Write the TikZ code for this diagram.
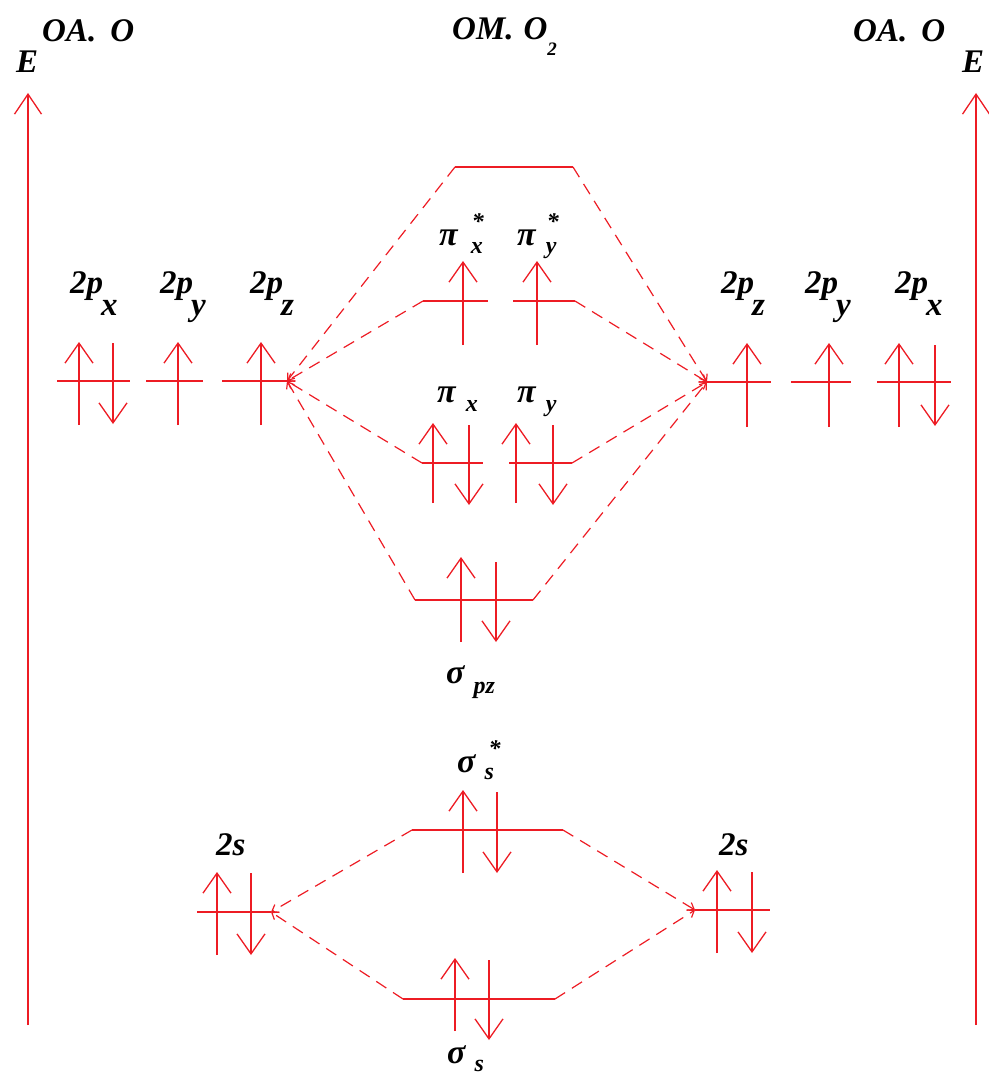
\documentclass[tikz,border=0pt]{standalone}
\usepackage{fontspec}
\setmainfont{Liberation Serif}
\usetikzlibrary{arrows.meta}
\definecolor{ored}{RGB}{237,28,36}
% subscript for the 2p labels
\newcommand\osub[1]{\kern-2pt\raisebox{-22pt}{#1}}
% greek label: [star]{letter}{gap}{drop}{subscript}
\newcommand\gl[5][]{{\fontsize{34}{34}\selectfont #2}\kern#3{\fontsize{24}{24}\selectfont\rlap{\raisebox{16pt}{\kern1pt #1}}\raisebox{-#4}{#5}}}
\tikzset{
  lbl/.style={font=\fontsize{33}{34}\selectfont\bfseries\itshape, inner sep=0pt, anchor=base west},
  glbl/.style={font=\bfseries\itshape, inner sep=0pt, anchor=base west},
  lvl/.style={draw=ored, line width=1.6pt},
  eup/.style={draw=ored, line width=1.5pt, -{Straight Barb[length=20pt,width=28pt,line width=1.3pt]}},
  axis/.style={draw=ored, line width=1.6pt, -{Straight Barb[length=20pt,width=27pt,line width=1.3pt]}},
  conn/.style={draw=ored, line width=1.2pt, dash pattern=on 12pt off 8pt, -{Straight Barb[length=6pt,width=9pt,line width=1.2pt]}}
}
\begin{document}
\begin{tikzpicture}[x=1pt,y=-1pt]
\useasboundingbox (0,0) rectangle (988,1075);

% energy axes
\coordinate (axLb) at (28,1025); \coordinate (axLt) at (28,93);
\coordinate (axRb) at (976,1025); \coordinate (axRt) at (976,93);
\draw[axis] (axLb) -- (axLt);
\draw[axis] (axRb) -- (axRt);

% titles
\node[lbl] (eL) at (16,73) {E};
\node[lbl] (oaL) at (42,42) {OA.\kern14pt O};
\node[lbl] (om) at (452,40) {OM.\kern10pt O\raisebox{-16pt}{\fontsize{19}{19}\selectfont 2}};
\node[lbl] (oaR) at (853,42) {OA.\kern14pt O};
\node[lbl] (eR) at (962,73) {E};

% ---- left 2p
\coordinate (a1) at (57,381); \coordinate (a2) at (130,381);
\coordinate (b1) at (146,381); \coordinate (b2) at (203,381);
\coordinate (c1) at (222,381); \coordinate (c2) at (287,381);
\draw[lvl] (a1) -- (a2); \draw[lvl] (b1) -- (b2); \draw[lvl] (c1) -- (c2);
\draw[eup] (79,425) -- (79,342);
\draw[eup] (113,343) -- (113,424);
\draw[eup] (178,425) -- (178,342);
\draw[eup] (261,425) -- (261,342);
\node[lbl] (l2px) at (70,293) {2p\osub{x}};
\node[lbl] (l2py) at (160,293) {2p\osub{y}};
\node[lbl] (l2pz) at (250,293) {2p\osub{z}};

% ---- right 2p
\coordinate (d1) at (707,382); \coordinate (d2) at (771,382);
\coordinate (e1) at (791,382); \coordinate (e2) at (851,382);
\coordinate (f1) at (877,382); \coordinate (f2) at (951,382);
\draw[lvl] (d1) -- (d2); \draw[lvl] (e1) -- (e2); \draw[lvl] (f1) -- (f2);
\draw[eup] (747,427) -- (747,343);
\draw[eup] (829,427) -- (829,343);
\draw[eup] (899,427) -- (899,343);
\draw[eup] (935,345) -- (935,426);
\node[lbl] (r2pz) at (721,293) {2p\osub{z}};
\node[lbl] (r2py) at (805,293) {2p\osub{y}};
\node[lbl] (r2px) at (895,293) {2p\osub{x}};

% ---- MO sigma* pz (top, empty)
\coordinate (t1) at (455,167); \coordinate (t2) at (573,167);
\draw[lvl] (t1) -- (t2);

% ---- pi*
\coordinate (ps1) at (423,301); \coordinate (ps2) at (488,301);
\coordinate (qs1) at (513,301); \coordinate (qs2) at (575,301);
\draw[lvl] (ps1) -- (ps2); \draw[lvl] (qs1) -- (qs2);
\draw[eup] (463,345) -- (463,261);
\draw[eup] (537,345) -- (537,261);
\node[glbl] (lpsx) at (439,245) {\gl[*]{π}{13pt}{8pt}{x}};
\node[glbl] (lpsy) at (517,245) {\gl[*]{π}{10pt}{8pt}{y}};

% ---- pi
\coordinate (p1) at (422,463); \coordinate (p2) at (483,463);
\coordinate (q1) at (509,463); \coordinate (q2) at (572,463);
\draw[lvl] (p1) -- (p2); \draw[lvl] (q1) -- (q2);
\draw[eup] (433,503) -- (433,423);
\draw[eup] (469,425) -- (469,505);
\draw[eup] (516,503) -- (516,423);
\draw[eup] (553,425) -- (553,505);
\node[glbl] (lpx) at (437,402) {\gl{π}{10pt}{9pt}{x}};
\node[glbl] (lpy) at (517,402) {\gl{π}{10pt}{9pt}{y}};

% ---- sigma pz
\coordinate (s1) at (415,600); \coordinate (s2) at (533,600);
\draw[lvl] (s1) -- (s2);
\draw[eup] (461,642) -- (461,557);
\draw[eup] (496,562) -- (496,642);
\node[glbl] (lspz) at (446,683) {\gl{σ}{9pt}{10pt}{pz}};

% ---- sigma* s
\coordinate (u1) at (412,830); \coordinate (u2) at (563,830);
\draw[lvl] (u1) -- (u2);
\draw[eup] (463,873) -- (463,790);
\draw[eup] (497,792) -- (497,873);
\node[glbl] (lsss) at (457,772) {\gl[\kern3pt*]{σ}{9pt}{7pt}{s}};

% ---- sigma s
\coordinate (v1) at (403,999); \coordinate (v2) at (555,999);
\draw[lvl] (v1) -- (v2);
\draw[eup] (455,1031) -- (455,958);
\draw[eup] (489,960) -- (489,1040);
\node[glbl] (lss) at (447,1063) {\gl{σ}{9pt}{8pt}{s}};

% ---- 2s
\coordinate (g1) at (197,912); \coordinate (g2) at (271,912);
\coordinate (h1) at (695,910); \coordinate (h2) at (770,910);
\draw[lvl] (g1) -- (g2); \draw[lvl] (h1) -- (h2);
\draw[eup] (217,955) -- (217,872);
\draw[eup] (251,873) -- (251,955);
\draw[eup] (717,953) -- (717,870);
\draw[eup] (752,872) -- (752,953);
\node[lbl] (l2s) at (216,855) {2s};
\node[lbl] (r2s) at (719,855) {2s};

% ---- correlation lines
\draw[conn] (t1) -- (c2);
\draw[conn] (ps1) -- (c2);
\draw[conn] (p1) -- (c2);
\draw[conn] (s1) -- (c2);
\draw[conn] (t2) -- (d1);
\draw[conn] (qs2) -- (d1);
\draw[conn] (q2) -- (d1);
\draw[conn] (s2) -- (d1);
\draw[conn] (u1) -- (g2);
\draw[conn] (v1) -- (g2);
\draw[conn] (u2) -- (h1);
\draw[conn] (v2) -- (h1);
\end{tikzpicture}
\end{document}
